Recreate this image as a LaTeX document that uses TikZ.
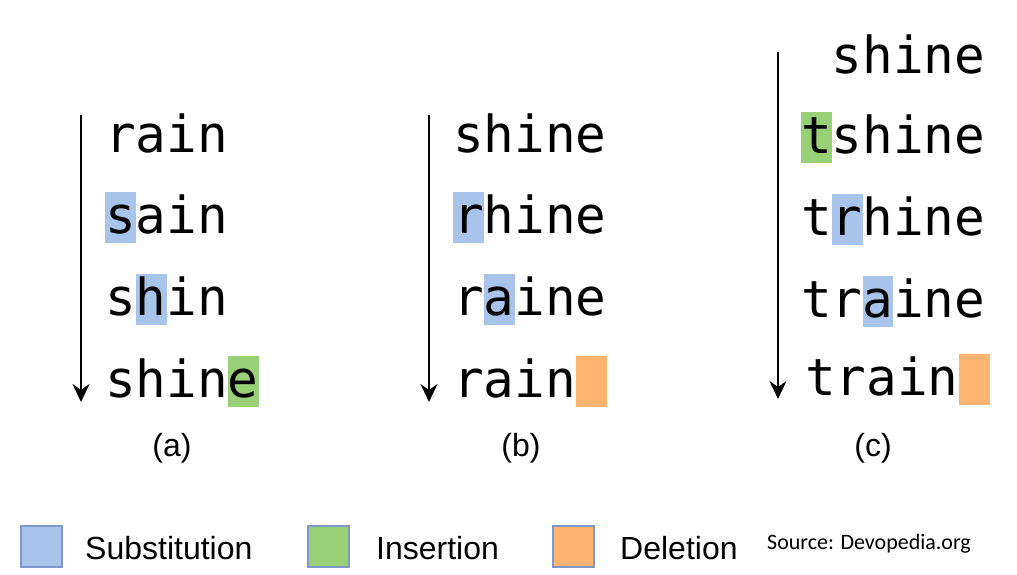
\documentclass[tikz,border=0pt]{standalone}
\usepackage{fontspec}
\setmainfont{Liberation Sans}
\newfontfamily\monof{DejaVu Sans Mono}
\newfontfamily\srcf{Carlito}
\usetikzlibrary{arrows.meta}
\definecolor{subc}{HTML}{A9C4EB}
\definecolor{insc}{HTML}{97D077}
\definecolor{delc}{HTML}{FFB570}
\definecolor{legb}{HTML}{7C98C8}
\tikzset{
  word/.style={anchor=base west, inner sep=0pt, outer sep=0pt, font=\monof\fontsize{51}{60}\selectfont},
  sublabel/.style={anchor=base, inner sep=0pt, font=\fontsize{32}{38}\selectfont},
  legtxt/.style={anchor=base west, inner sep=0pt, font=\fontsize{32}{38}\selectfont},
  srctxt/.style={anchor=base west, inner sep=0pt, font=\srcf\fontsize{22}{26}\selectfont},
  arr/.style={line width=2pt, -{Stealth[length=18pt,width=17pt,inset=6pt]}},
  hl/.style={inner sep=0pt, outer sep=0pt, minimum width=30.75pt, minimum height=51pt, anchor=south west, draw=none},
  legbox/.style={inner sep=0pt, minimum width=41pt, minimum height=41pt, anchor=north west, draw=legb, line width=2pt},
}
\begin{document}
\begin{tikzpicture}[x=1pt,y=-1pt]
\useasboundingbox (0,0) rectangle (1017,574);
% ---------- (a) ----------
\node[hl, fill=subc] (ha1) at (105,243) {};
\node[hl, fill=subc] (ha2) at (135.75,325) {};
\node[hl, fill=insc] (ha3) at (228,407) {};
\node[word] (wa1) at (105,152) {rain};
\node[word] (wa2) at (105,233) {sain};
\node[word] (wa3) at (105,315) {shin};
\node[word] (wa4) at (105,397) {shine};
\coordinate (aa1) at (81,115);
\coordinate (aa2) at (81,402);
\draw[arr] (aa1) -- (aa2);
\node[sublabel] (la) at (172,456) {(a)};
% ---------- (b) ----------
\node[hl, fill=subc] (hb1) at (453,243) {};
\node[hl, fill=subc] (hb2) at (483.75,325) {};
\node[hl, fill=delc] (hb3) at (576,407) {};
\node[word] (wb1) at (453,152) {shine};
\node[word] (wb2) at (453,233) {rhine};
\node[word] (wb3) at (453,315) {raine};
\node[word] (wb4) at (453,397) {rain};
\coordinate (ab1) at (429,115);
\coordinate (ab2) at (429,402);
\draw[arr] (ab1) -- (ab2);
\node[sublabel] (lb) at (521,456) {(b)};
% ---------- (c) ----------
\node[hl, fill=insc] (hc1) at (801,163) {};
\node[hl, fill=subc] (hc2) at (831.75,245) {};
\node[hl, fill=subc] (hc3) at (862.5,327) {};
\node[hl, fill=delc] (hc4) at (959,405) {};
\node[word] (wc0) at (831.75,73) {shine};
\node[word] (wc1) at (801,153) {tshine};
\node[word] (wc2) at (801,235) {trhine};
\node[word] (wc3) at (801,317) {traine};
\node[word] (wc4) at (805,395) {train};
\coordinate (ac1) at (778,52);
\coordinate (ac2) at (778,399);
\draw[arr] (ac1) -- (ac2);
\node[sublabel] (lc) at (873,456) {(c)};
% ---------- legend ----------
\node[legbox, fill=subc] (k1) at (20,525) {};
\node[legtxt] (t1) at (85,559) {Substitution};
\node[legbox, fill=insc] (k2) at (307,525) {};
\node[legtxt] (t2) at (376,559) {Insertion};
\node[legbox, fill=delc] (k3) at (552,525) {};
\node[legtxt] (t3) at (620,559) {Deletion};
\node[srctxt] (src) at (767,549) {Source: Devopedia.org};
\end{tikzpicture}
\end{document}
